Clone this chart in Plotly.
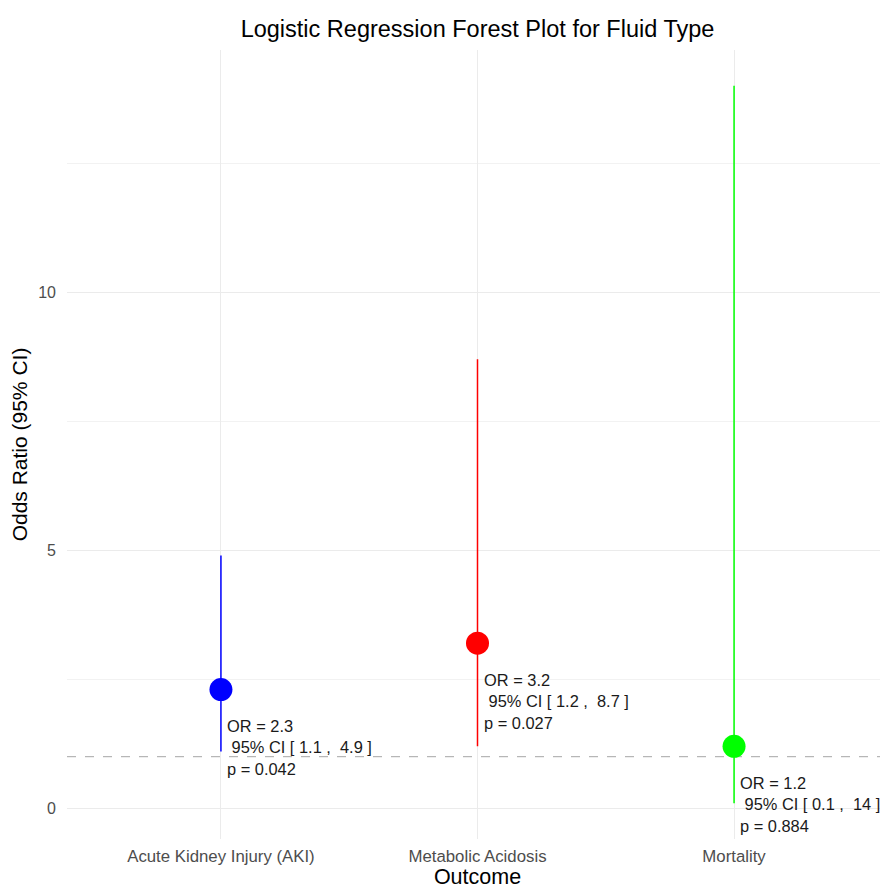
import plotly.graph_objects as go

outcomes = ["Acute Kidney Injury (AKI)", "Metabolic Acidosis", "Mortality"]
odds_ratio = [2.3, 3.2, 1.2]
ci_low = [1.1, 1.2, 0.1]
ci_high = [4.9, 8.7, 14]
ci_low_txt = ["1.1", "1.2", "0.1"]
ci_high_txt = ["4.9", "8.7", "14"]
p_values = ["0.042", "0.027", "0.884"]
colors = ["#0000FF", "#FF0000", "#00FF00"]
y_ticks = [0, 5, 10]

FONT = "Liberation Sans, Arial, sans-serif"
fig = go.Figure()

for i, o in enumerate(outcomes):
    fig.add_trace(go.Scatter(x=[o, o], y=[ci_low[i], ci_high[i]], mode="lines",
                             line=dict(color=colors[i], width=1.5), showlegend=False,
                             hoverinfo="skip"))
    fig.add_trace(go.Scatter(x=[o], y=[odds_ratio[i]], mode="markers",
                             marker=dict(color=colors[i], size=23), showlegend=False))

fig.add_hline(y=1, line=dict(color="#A6A6A6", width=1, dash="dash"), layer="below")

for i, o in enumerate(outcomes):
    txt = (f"OR = {odds_ratio[i]}<br>\u00a095% CI [ {ci_low_txt[i]} ,\u00a0 {ci_high_txt[i]} ]"
           f"<br>p = {p_values[i]}")
    fig.add_annotation(x=o, y=odds_ratio[i] - 0.5, text=txt, showarrow=False,
                       xanchor="left", yanchor="top", align="left", xshift=4,
                       font=dict(family=FONT, size=16.4, color="#1a1a1a"))

# page body has an 8px margin: compensate so the plot lands where the reference has it
fig.update_layout(
    width=880, height=881,
    margin=dict(l=59, r=0, t=42, b=50),
    paper_bgcolor="white", plot_bgcolor="white",
    font=dict(family=FONT),
    title=dict(text="Logistic Regression Forest Plot for Fluid Type", x=0.5, xref="paper",
               y=1 - 21 / 881, yref="container", xanchor="center", yanchor="middle",
               font=dict(size=23.5, color="black", family=FONT)),
    xaxis=dict(title=dict(text="Outcome", font=dict(size=21.5, color="black"), standoff=17),
               range=[-0.6, 2.6], showgrid=True, gridcolor="#EBEBEB", gridwidth=1.1,
               zeroline=False, showline=False, ticks="", automargin=False,
               ticklabelstandoff=5,
               tickfont=dict(size=16.8, color="#4D4D4D")),
    yaxis=dict(title=dict(text="Odds Ratio (95% CI)", font=dict(size=21, color="black"), standoff=14),
               range=[-0.595, 14.695], tickvals=y_ticks, showgrid=True, gridcolor="#EBEBEB",
               gridwidth=1.1, zeroline=False, showline=False, ticks="", automargin=False,
               ticklabelstandoff=10,
               tickfont=dict(size=16, color="#4D4D4D"),
               minor=dict(dtick=2.5, tick0=0, showgrid=True, gridcolor="#F2F2F2", gridwidth=1)),
)

fig.write_html("out.html")
